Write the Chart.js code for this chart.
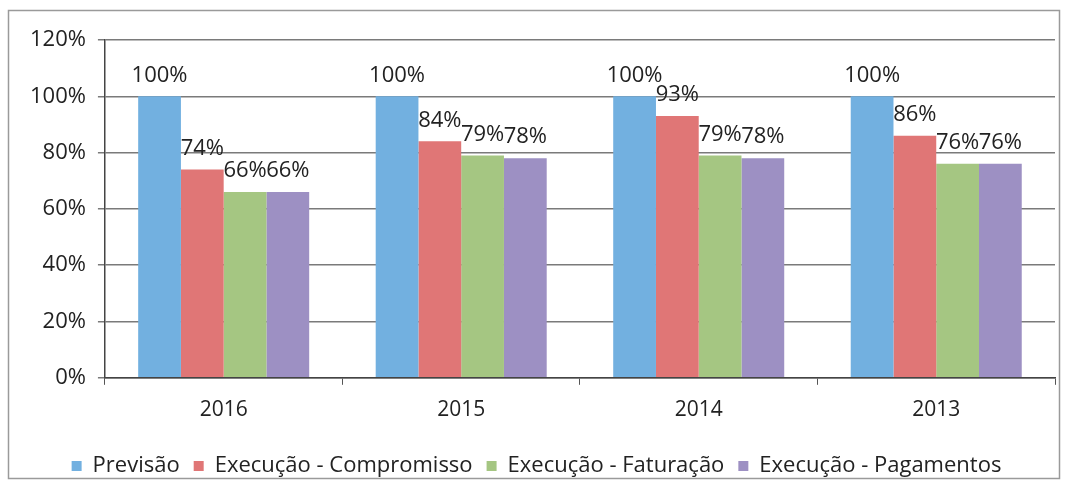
<!DOCTYPE html>
<html>
<head>
<meta charset="utf-8">
<script src="https://cdn.jsdelivr.net/npm/chart.js@4/dist/chart.umd.min.js"></script>
<style>
  html, body { margin: 0; padding: 0; background: #fff; }
  #wrap { position: relative; width: 1067px; height: 492px; }
</style>
</head>
<body>
<div id="wrap"><canvas id="execChart" width="1067" height="492"></canvas></div>
<script>
// Execução orçamental por ano (% da previsão)
var anos = ["2016", "2015", "2014", "2013"];
var previsao = [100, 100, 100, 100];
var compromisso = [74, 84, 93, 86];
var faturacao = [66, 79, 79, 76];
var pagamentos = [66, 78, 78, 76];
var yTicks = [0, 20, 40, 60, 80, 100, 120];

var FONT = "'Open Sans', 'Liberation Sans', sans-serif";

// Moldura cinzenta à volta do gráfico
var framePlugin = {
  id: "frame",
  beforeDraw: function (chart) {
    var ctx = chart.ctx;
    ctx.save();
    ctx.fillStyle = "#fff";
    ctx.fillRect(0, 0, chart.width, chart.height);
    ctx.strokeStyle = "#9a9a9a";
    ctx.lineWidth = 1.5;
    ctx.strokeRect(8.5, 10.5, chart.width - 16, chart.height - 24);
    ctx.restore();
  }
};

// Rótulos de valor por cima de cada barra
var valueLabels = {
  id: "valueLabels",
  afterDatasetsDraw: function (chart) {
    var ctx = chart.ctx;
    ctx.save();
    ctx.font = "22px " + FONT;
    ctx.fillStyle = "#222";
    ctx.textAlign = "center";
    ctx.textBaseline = "bottom";
    chart.data.datasets.forEach(function (ds, i) {
      chart.getDatasetMeta(i).data.forEach(function (bar, j) {
        ctx.fillText(ds.data[j] + "%", bar.x, bar.y - 10);
      });
    });
    ctx.restore();
  }
};

new Chart(document.getElementById("execChart"), {
  type: "bar",
  data: {
    labels: anos,
    datasets: [
      { label: "Previsão", data: previsao, backgroundColor: "#72b0e0" },
      { label: "Execução - Compromisso", data: compromisso, backgroundColor: "#e07676" },
      { label: "Execução - Faturação", data: faturacao, backgroundColor: "#a5c682" },
      { label: "Execução - Pagamentos", data: pagamentos, backgroundColor: "#9d90c3" }
    ]
  },
  options: {
    responsive: false,
    animation: false,
    layout: { padding: { left: 18, right: 12, top: 40, bottom: 5 } },
    datasets: { bar: { categoryPercentage: 0.72, barPercentage: 1.0 } },
    plugins: {
      legend: {
        position: "bottom",
        labels: {
          boxWidth: 10,
          boxHeight: 10,
          padding: 14,
          color: "#222",
          font: { family: FONT, size: 22 }
        }
      },
      tooltip: { enabled: false }
    },
    scales: {
      x: {
        afterFit: function (scale) { scale.height += 5; },
        grid: {
          offset: true,
          drawOnChartArea: false,
          drawTicks: true,
          tickLength: 7,
          color: "#555"
        },
        border: { color: "#444", width: 1.5 },
        ticks: { color: "#222", padding: 13, font: { family: FONT, size: 21 } }
      },
      y: {
        min: 0,
        max: 120,
        afterBuildTicks: function (axis) {
          axis.ticks = yTicks.map(function (v) { return { value: v }; });
        },
        grid: { color: "#7a7a7a", lineWidth: 1.5, tickLength: 7 },
        border: { color: "#444", width: 1.5 },
        ticks: {
          color: "#222",
          padding: 12,
          font: { family: FONT, size: 22 },
          callback: function (v) { return v + "%"; }
        }
      }
    }
  },
  plugins: [framePlugin, valueLabels]
});
</script>
</body>
</html>
